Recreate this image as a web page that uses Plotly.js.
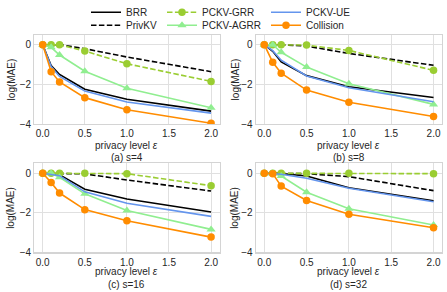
<!DOCTYPE html>
<html><head><meta charset="utf-8">
<script src="https://cdn.plot.ly/plotly-3.0.1.min.js"></script>
<style>html,body{margin:0;padding:0;background:#fff}#chart{width:447px;height:292px}</style>
</head><body><div id="chart"></div><script>
// ---- data ----
const eps = [0, 0.1, 0.2, 0.5, 1.0, 2.0];
const methods = ['BRR', 'PrivKV', 'PCKV-GRR', 'PCKV-AGRR', 'PCKV-UE', 'Collision'];
const panelLabels = ['(a) s=4', '(b) s=8', '(c) s=16', '(d) s=32'];
const xTickVals = [0, 0.5, 1.0, 1.5, 2.0];
const yTickVals = [-4, -2, 0];
const yTickText = ['\u22124', '\u22122', '0'];

const s4_BRR = [0, -1.05, -1.5, -2.25, -2.75, -3.35];
const s4_PrivKV = [0, 0, 0, -0.2, -0.62, -1.36];
const s4_GRR = [0, 0, 0, -0.32, -0.96, -1.85];
const s4_AGRR = [0, -0.13, -0.52, -1.34, -2.2, -3.18];
const s4_UE = [0, -1.1, -1.6, -2.34, -2.89, -3.45];
const s4_Collision = [0, -1.36, -1.88, -2.67, -3.28, -3.96];

const s8_BRR = [0, -0.33, -0.87, -1.56, -2.12, -2.66];
const s8_PrivKV = [0, 0, 0, -0.07, -0.44, -1.04];
const s8_GRR = [0, 0, 0, -0.02, -0.29, -1.29];
const s8_AGRR = [0, 0, -0.38, -1.13, -1.97, -3.01];
const s8_UE = [0, -0.3, -0.78, -1.58, -2.17, -2.88];
const s8_Collision = [0, -0.89, -1.44, -2.29, -2.9, -3.62];

const s16_BRR = [0, -0.03, -0.07, -0.81, -1.3, -1.96];
const s16_PrivKV = [0, 0, 0, -0.03, -0.34, -0.9];
const s16_GRR = [0, 0, 0, 0, -0.02, -0.63];
const s16_AGRR = [0, 0, -0.2, -1.04, -1.88, -2.84];
const s16_UE = [0, -0.05, -0.12, -0.94, -1.52, -2.18];
const s16_Collision = [0, -0.47, -1.0, -1.84, -2.4, -3.23];

const s32_BRR = [0, 0, -0.01, -0.14, -0.73, -1.39];
const s32_PrivKV = [0, 0, 0, -0.02, -0.17, -0.88];
const s32_GRR = [0, 0, 0, 0, 0, -0.02];
const s32_AGRR = [0, 0, -0.14, -0.96, -1.8, -2.62];
const s32_UE = [0, -0.01, -0.05, -0.25, -0.76, -1.44];
const s32_Collision = [0, -0.02, -0.65, -1.38, -2.07, -2.76];

const panels = [
  [s4_BRR, s4_PrivKV, s4_GRR, s4_AGRR, s4_UE, s4_Collision],
  [s8_BRR, s8_PrivKV, s8_GRR, s8_AGRR, s8_UE, s8_Collision],
  [s16_BRR, s16_PrivKV, s16_GRR, s16_AGRR, s16_UE, s16_Collision],
  [s32_BRR, s32_PrivKV, s32_GRR, s32_AGRR, s32_UE, s32_Collision]
];

// ---- styles ----
const W = 447, H = 292;
const FONT = 'Liberation Sans, Arial, sans-serif';
const TXT = '#262626';
const DASH = '5.5px,2.4px';
const styles = [
  {color: '#000000', dash: 'solid', mode: 'lines'},
  {color: '#000000', dash: DASH, mode: 'lines'},
  {color: '#9acd32', dash: DASH, mode: 'lines+markers', symbol: 'circle'},
  {color: '#90ee90', dash: 'solid', mode: 'lines+markers', symbol: 'triangle-up'},
  {color: '#6495ed', dash: 'solid', mode: 'lines'},
  {color: '#ff8c00', dash: 'solid', mode: 'lines+markers', symbol: 'circle'}
];
const legendIds = ['legend', 'legend2', 'legend3', 'legend4', 'legend5', 'legend6'];
const legendPos = [[86, 12.3], [86, 25.3], [162, 12.3], [162, 25.3], [266, 12.3], [266, 25.3]];

const px = v => v / W, py = v => 1 - v / H;
const xDom = [[34.3, 219.5], [255.8, 442]];
const yDom = [[34.8, 124], [163.4, 252.3]];

const traces = [];
panels.forEach((series, p) => {
  const ax = p === 0 ? '' : String(p + 1);
  series.forEach((yv, i) => {
    const st = styles[i];
    const t = {
      x: eps, y: yv, type: 'scatter', mode: st.mode, name: methods[i],
      xaxis: 'x' + ax, yaxis: 'y' + ax,
      line: {color: st.color, width: 1.6, dash: st.dash},
      showlegend: p === 0, legend: legendIds[i], hoverinfo: 'skip'
    };
    if (st.symbol) t.marker = {symbol: st.symbol, size: st.symbol === 'circle' ? 7.5 : 8, color: st.color, line: {width: 0}};
    traces.push(t);
  });
});

const layout = {
  width: W, height: H,
  margin: {l: 0, r: 0, t: 0, b: 0, autoexpand: false},
  paper_bgcolor: '#ffffff', plot_bgcolor: '#ffffff',
  font: {family: FONT, size: 10, color: TXT},
  annotations: []
};

for (let p = 0; p < 4; p++) {
  const ax = p === 0 ? '' : String(p + 1);
  const col = p % 2, row = Math.floor(p / 2);
  const xd = xDom[col], yd = yDom[row];
  layout['xaxis' + ax] = {
    domain: [px(xd[0]), px(xd[1])], anchor: 'y' + ax,
    range: [-0.1, 2.1], tickvals: xTickVals, tickformat: '.1f',
    showgrid: true, gridcolor: '#e0e0e0', gridwidth: 1, zeroline: false,
    showline: true, mirror: true, linecolor: '#d4d4d4', linewidth: 1.2,
    ticks: '', tickfont: {size: 10, color: TXT}, fixedrange: true
  };
  layout['yaxis' + ax] = {
    domain: [py(yd[1]), py(yd[0])], anchor: 'x' + ax,
    range: [-4, 0.5], tickvals: yTickVals, ticktext: yTickText,
    showgrid: true, gridcolor: '#e0e0e0', gridwidth: 1, zeroline: false,
    showline: true, mirror: true, linecolor: '#d4d4d4', linewidth: 1.2,
    ticks: '', tickfont: {size: 10, color: TXT}, fixedrange: true
  };
  const cx = (xd[0] + xd[1]) / 2;
  const base = row === 0 ? 145 : 271.7;
  layout.annotations.push({
    text: 'privacy level <i>\u03b5</i>', x: px(cx), y: py(base), xref: 'paper', yref: 'paper',
    xanchor: 'center', yanchor: 'middle', showarrow: false, font: {size: 10, color: TXT}
  });
  layout.annotations.push({
    text: panelLabels[p], x: px(cx), y: py(base + 12.8), xref: 'paper', yref: 'paper',
    xanchor: 'center', yanchor: 'middle', showarrow: false, font: {size: 10, color: TXT}
  });
  layout.annotations.push({
    text: 'log(MAE)', x: px(col === 0 ? 11 : 235), y: py((yd[0] + yd[1]) / 2), xref: 'paper', yref: 'paper',
    xanchor: 'center', yanchor: 'middle', textangle: -90, showarrow: false, font: {size: 10, color: TXT}
  });
}

legendIds.forEach((id, i) => {
  layout[id] = {
    x: px(legendPos[i][0]), y: py(legendPos[i][1]), xref: 'paper', yref: 'paper',
    xanchor: 'left', yanchor: 'middle', orientation: 'v',
    bgcolor: 'rgba(0,0,0,0)', borderwidth: 0, itemwidth: 30,
    font: {family: FONT, size: 10, color: TXT}
  };
});

Plotly.newPlot('chart', traces, layout, {staticPlot: true, displayModeBar: false});
</script></body></html>
